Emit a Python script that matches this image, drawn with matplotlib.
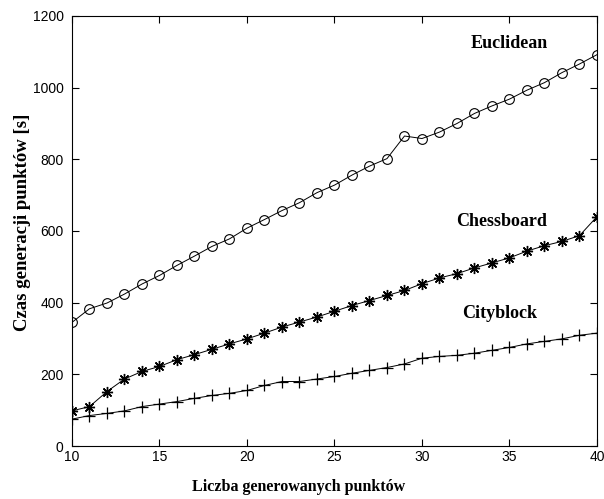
import matplotlib
matplotlib.use("Agg")
import matplotlib.pyplot as plt

# number of generated points
n_points = list(range(10, 41))

euclidean = [345, 383, 399, 424, 452, 476, 504, 530, 557, 578, 608, 632, 657, 679, 707,
             728, 756, 781, 802, 865, 858, 876, 900, 928, 949, 968, 993, 1014, 1042, 1066, 1092]
chessboard = [98, 110, 152, 187, 208, 222, 241, 255, 270, 285, 299, 315, 332, 346, 360,
              376, 392, 406, 420, 434, 453, 469, 481, 497, 511, 525, 544, 559, 571, 587, 640]
cityblock = [75, 85, 91, 98, 110, 117, 124, 133, 141, 147, 155, 169, 180, 180, 187,
             194, 203, 211, 219, 229, 245, 250, 253, 259, 267, 275, 285, 292, 299, 309, 315]

labels = ["Euclidean", "Chessboard", "Cityblock"]
label_pos = [(34.97, 1124), (34.55, 627), (34.46, 369)]

fig = plt.figure(figsize=(6.04, 4.99), dpi=100)
ax = fig.add_axes([0.1192, 0.1062, 0.8692, 0.8618])

ax.plot(n_points, euclidean, color="black", lw=0.7, marker="o", ms=7,
        mfc="none", mec="black", mew=0.8)
ax.plot(n_points, chessboard, color="black", lw=0.7, marker=(8, 2, 0), ms=8,
        mec="black", mew=1.0)
ax.plot(n_points, cityblock, color="black", lw=0.7, marker="+", ms=9,
        mec="black", mew=0.9)

serif = {"family": "Liberation Serif", "weight": "bold"}
for lab, (x, y) in zip(labels, label_pos):
    ax.text(x, y, lab, ha="center", va="center", fontsize=13, fontdict=serif)

ax.set_xlim(10, 40)
ax.set_ylim(0, 1200)
ax.set_xticks(range(10, 41, 5))
ax.set_yticks(range(0, 1201, 200))
ax.tick_params(direction="in", top=True, right=True, length=5, width=0.8,
               labelsize=10)
ax.tick_params(axis="y", pad=6)
ax.tick_params(axis="x", pad=3)
for t in ax.get_xticklabels() + ax.get_yticklabels():
    t.set_family(["Liberation Sans Narrow", "Liberation Sans"])
for s in ax.spines.values():
    s.set_linewidth(0.8)

ax.set_xlabel("Liczba generowanych punktów", fontsize=11.5, fontdict=serif)
ax.set_ylabel("Czas generacji punktów [s]", fontsize=13.5, fontdict=serif)
ax.xaxis.label.set_va("center")
ax.yaxis.label.set_va("center")
ax.xaxis.set_label_coords(0.432, -0.095)
ax.yaxis.set_label_coords(-0.095, 0.52)

fig.savefig("out.png", dpi=100)
